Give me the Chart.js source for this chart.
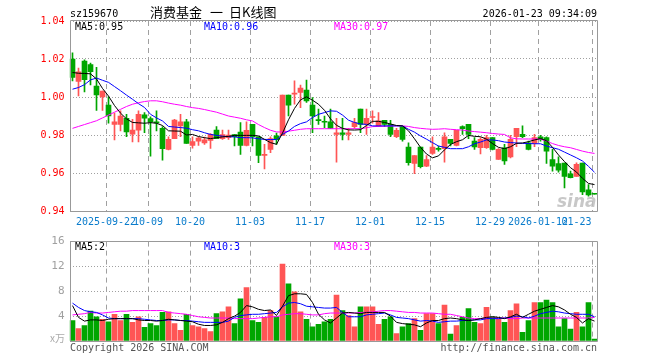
<!DOCTYPE html>
<html>
<head>
<meta charset="utf-8">
<script src="https://cdn.jsdelivr.net/npm/chart.js@4.4.0/dist/chart.umd.min.js"></script>
<style>
  html, body { margin: 0; padding: 0; background: #fff; }
  #wrap { position: relative; width: 660px; height: 360px; }
  #wrap canvas { position: absolute; left: 0; }
</style>
</head>
<body>
<div id="wrap">
  <canvas id="kChart" width="660" height="230" style="top:0"></canvas>
  <canvas id="volChart" width="660" height="130" style="top:230px"></canvas>
</div>
<script>
// trading days shown (sz159670, daily K)
const dates = [
  '2025-09-12','2025-09-15','2025-09-16','2025-09-17','2025-09-18','2025-09-19','2025-09-22','2025-09-23','2025-09-24','2025-09-25',
  '2025-09-26','2025-09-29','2025-09-30','2025-10-09','2025-10-10','2025-10-13','2025-10-14','2025-10-15','2025-10-16','2025-10-17',
  '2025-10-20','2025-10-21','2025-10-22','2025-10-23','2025-10-24','2025-10-27','2025-10-28','2025-10-29','2025-10-30','2025-10-31',
  '2025-11-03','2025-11-04','2025-11-05','2025-11-06','2025-11-07','2025-11-10','2025-11-11','2025-11-12','2025-11-13','2025-11-14',
  '2025-11-17','2025-11-18','2025-11-19','2025-11-20','2025-11-21','2025-11-24','2025-11-25','2025-11-26','2025-11-27','2025-11-28',
  '2025-12-01','2025-12-02','2025-12-03','2025-12-04','2025-12-05','2025-12-08','2025-12-09','2025-12-10','2025-12-11','2025-12-12',
  '2025-12-15','2025-12-16','2025-12-17','2025-12-18','2025-12-19','2025-12-22','2025-12-23','2025-12-24','2025-12-25','2025-12-26',
  '2025-12-29','2025-12-30','2025-12-31','2026-01-05','2026-01-06','2026-01-07','2026-01-08','2026-01-09','2026-01-12','2026-01-13',
  '2026-01-14','2026-01-15','2026-01-16','2026-01-19','2026-01-20','2026-01-21','2026-01-22','2026-01-23'
];

const opens = [
  1.0200,1.0082,1.0189,1.0170,1.0057,1.0001,0.9957,0.9856,0.9856,0.9888,
  0.9805,0.9826,0.9906,0.9886,0.9869,0.9835,0.9724,0.9781,0.9848,0.9869,
  0.9745,0.9768,0.9758,0.9772,0.9826,0.9781,0.9786,0.9802,0.9816,0.9745,
  0.9856,0.9791,0.9692,0.9724,0.9795,0.9798,1.0010,1.0015,1.0024,1.0036,
  0.9957,0.9879,0.9870,0.9869,0.9803,0.9812,0.9803,0.9844,0.9936,0.9856,
  0.9892,0.9848,0.9877,0.9856,0.9791,0.9844,0.9737,0.9650,0.9737,0.9636,
  0.9703,0.9730,0.9728,0.9777,0.9745,0.9844,0.9856,0.9768,0.9733,0.9733,
  0.9786,0.9671,0.9733,0.9684,0.9791,0.9803,0.9759,0.9756,0.9791,0.9786,
  0.9671,0.9650,0.9652,0.9596,0.9582,0.9652,0.9512,0.9490
];
const highs = [
  1.0232,1.0152,1.0195,1.0179,1.0156,1.0031,1.0001,0.9915,0.9927,0.9909,
  0.9883,0.9927,0.9918,0.9895,0.9927,0.9844,0.9791,0.9883,0.9909,0.9883,
  0.9791,0.9791,0.9789,0.9807,0.9844,0.9826,0.9826,0.9802,0.9865,0.9869,
  0.9856,0.9791,0.9751,0.9791,0.9810,1.0010,1.0010,1.0085,1.0063,1.0089,
  0.9997,0.9936,0.9900,0.9936,0.9888,0.9888,0.9835,0.9888,0.9936,0.9936,
  0.9927,0.9918,0.9877,0.9877,0.9835,0.9844,0.9759,0.9692,0.9737,0.9692,
  0.9791,0.9742,0.9812,0.9777,0.9825,0.9848,0.9856,0.9786,0.9786,0.9798,
  0.9786,0.9728,0.9751,0.9798,0.9835,0.9848,0.9768,0.9803,0.9798,0.9791,
  0.9724,0.9685,0.9652,0.9610,0.9654,0.9652,0.9539,0.9490
];
const lows = [
  1.0085,1.0006,1.0027,1.0063,0.9930,0.9930,0.9862,0.9774,0.9821,0.9791,
  0.9763,0.9763,0.9812,0.9689,0.9821,0.9668,0.9721,0.9781,0.9791,0.9756,
  0.9731,0.9745,0.9751,0.9730,0.9781,0.9777,0.9777,0.9742,0.9698,0.9742,
  0.9742,0.9654,0.9622,0.9707,0.9750,0.9798,0.9900,0.9962,0.9944,0.9971,
  0.9812,0.9856,0.9839,0.9835,0.9657,0.9774,0.9774,0.9835,0.9812,0.9803,
  0.9862,0.9844,0.9844,0.9791,0.9786,0.9768,0.9641,0.9597,0.9627,0.9633,
  0.9698,0.9715,0.9657,0.9742,0.9742,0.9803,0.9781,0.9724,0.9701,0.9730,
  0.9721,0.9671,0.9645,0.9680,0.9738,0.9786,0.9721,0.9738,0.9768,0.9650,
  0.9610,0.9605,0.9522,0.9574,0.9582,0.9486,0.9478,0.9488
];
const closes = [
  1.0103,1.0133,1.0091,1.0133,1.0011,1.0031,0.9900,0.9869,0.9900,0.9816,
  0.9826,0.9909,0.9888,0.9869,0.9863,0.9728,0.9777,0.9878,0.9869,0.9756,
  0.9766,0.9784,0.9774,0.9803,0.9781,0.9802,0.9800,0.9791,0.9745,0.9825,
  0.9791,0.9692,0.9698,0.9781,0.9775,1.0010,0.9957,1.0020,1.0047,0.9980,
  0.9900,0.9876,0.9867,0.9835,0.9812,0.9803,0.9812,0.9865,0.9856,0.9888,
  0.9897,0.9874,0.9856,0.9803,0.9825,0.9777,0.9654,0.9692,0.9633,0.9671,
  0.9737,0.9724,0.9791,0.9756,0.9825,0.9833,0.9803,0.9737,0.9777,0.9786,
  0.9724,0.9724,0.9663,0.9777,0.9835,0.9791,0.9724,0.9786,0.9781,0.9715,
  0.9636,0.9615,0.9582,0.9576,0.9645,0.9500,0.9485,0.9488
];

const ma5 = [
  1.0129,1.0125,1.0124,1.0122,1.0095,1.0045,1.0005,0.9955,0.9915,0.9885,
  0.9866,0.9864,0.9862,0.9865,0.9862,0.9850,0.9822,0.9821,0.9820,0.9800,
  0.9803,0.9792,0.9786,0.9781,0.9786,0.9790,0.9793,0.9798,0.9798,0.9798,
  0.9798,0.9795,0.9777,0.9760,0.9751,0.9810,0.9880,0.9940,0.9985,1.0001,
  0.9983,0.9962,0.9930,0.9885,0.9851,0.9835,0.9827,0.9826,0.9828,0.9850,
  0.9872,0.9872,0.9866,0.9858,0.9850,0.9848,0.9822,0.9780,0.9735,0.9700,
  0.9680,0.9690,0.9722,0.9750,0.9765,0.9775,0.9798,0.9793,0.9791,0.9778,
  0.9755,0.9735,0.9728,0.9738,0.9756,0.9758,0.9765,0.9774,0.9781,0.9770,
  0.9735,0.9695,0.9660,0.9628,0.9605,0.9572,0.9545,0.9539
];
const ma10 = [
  1.0041,1.0050,1.0065,1.0090,1.0100,1.0088,1.0077,1.0055,1.0033,1.0010,
  0.9988,0.9965,0.9945,0.9909,0.9890,0.9874,0.9845,0.9842,0.9839,0.9836,
  0.9828,0.9822,0.9812,0.9803,0.9798,0.9794,0.9791,0.9790,0.9786,0.9786,
  0.9785,0.9780,0.9777,0.9776,0.9776,0.9803,0.9821,0.9845,0.9860,0.9869,
  0.9892,0.9909,0.9918,0.9927,0.9925,0.9905,0.9878,0.9866,0.9858,0.9856,
  0.9848,0.9848,0.9848,0.9848,0.9848,0.9848,0.9830,0.9815,0.9795,0.9778,
  0.9760,0.9742,0.9735,0.9728,0.9728,0.9728,0.9738,0.9754,0.9763,0.9774,
  0.9774,0.9770,0.9763,0.9760,0.9758,0.9756,0.9755,0.9754,0.9754,0.9742,
  0.9733,0.9725,0.9710,0.9695,0.9680,0.9663,0.9635,0.9604
];
const ma30 = [
  0.9835,0.9845,0.9855,0.9865,0.9875,0.9890,0.9905,0.9920,0.9935,0.9950,
  0.9962,0.9970,0.9976,0.9980,0.9980,0.9975,0.9968,0.9962,0.9957,0.9950,
  0.9944,0.9940,0.9934,0.9927,0.9920,0.9910,0.9900,0.9894,0.9888,0.9880,
  0.9874,0.9855,0.9839,0.9825,0.9816,0.9816,0.9820,0.9825,0.9830,0.9833,
  0.9833,0.9833,0.9833,0.9833,0.9833,0.9833,0.9833,0.9833,0.9833,0.9838,
  0.9844,0.9845,0.9846,0.9847,0.9848,0.9848,0.9845,0.9839,0.9835,0.9832,
  0.9830,0.9831,0.9833,0.9830,0.9828,0.9826,0.9821,0.9818,0.9815,0.9812,
  0.9808,0.9805,0.9803,0.9785,0.9780,0.9779,0.9779,0.9779,0.9778,0.9768,
  0.9755,0.9745,0.9738,0.9733,0.9724,0.9715,0.9708,0.9703
];

// volume, 万
const volumes = [
  3.3,2.0,2.5,4.8,3.9,3.5,3.1,4.3,3.3,4.3,
  3.0,3.9,2.2,2.8,2.5,4.6,4.7,2.8,1.7,4.3,
  2.5,2.3,2.0,1.5,4.4,4.7,5.5,2.8,6.8,8.6,
  3.3,3.0,3.8,4.9,3.9,12.4,9.2,7.9,4.7,3.5,
  2.3,2.7,3.1,3.5,7.4,4.9,4.1,2.3,5.5,5.5,
  5.5,2.7,3.5,3.9,1.2,2.3,2.8,3.6,1.7,4.4,
  4.4,2.8,5.8,1.1,2.5,3.8,5.2,3.0,2.8,5.4,
  3.9,3.5,3.0,4.9,6.0,1.4,3.3,6.2,6.2,6.6,
  6.2,2.3,3.6,1.9,4.6,2.3,6.2,0.3
];
const volMa5 = [
  5.7,3.8,3.2,3.4,3.4,3.3,3.5,3.6,3.6,3.6,
  3.6,3.4,3.3,3.3,3.2,3.3,3.5,3.4,3.3,3.2,
  3.1,2.7,2.5,2.5,2.6,3.0,3.6,4.0,4.6,5.7,
  5.5,5.1,4.9,5.0,4.1,5.6,7.3,7.6,7.6,7.5,
  6.2,4.3,3.4,2.9,3.7,4.5,4.6,4.5,4.4,4.6,
  4.6,4.6,4.6,4.0,3.0,2.8,2.7,2.6,2.3,2.9,
  3.3,3.3,3.6,3.7,3.6,3.4,3.3,3.4,3.6,3.8,
  3.9,3.8,3.6,3.9,4.3,3.8,4.3,4.8,5.1,5.4,
  5.7,5.5,5.0,4.3,3.8,2.9,3.6,3.2
];
const volMa10 = [
  6.1,5.4,4.9,4.7,4.6,4.2,3.7,3.6,3.6,3.6,
  3.6,3.6,3.5,3.4,3.3,3.3,3.4,3.4,3.3,3.3,
  3.2,3.1,3.0,3.0,3.0,3.0,3.2,3.8,4.1,4.2,
  4.3,4.3,4.4,4.5,4.6,5.5,6.1,6.2,6.0,5.6,
  5.5,5.4,5.3,5.3,5.4,4.6,3.9,3.9,3.9,4.2,
  4.3,4.4,4.5,4.2,3.8,3.7,3.6,3.4,3.2,3.3,
  3.2,3.0,3.1,3.2,3.2,3.3,3.3,3.4,3.4,3.6,
  3.6,3.6,3.7,3.8,4.0,3.9,3.7,4.0,4.4,4.6,
  4.8,4.7,4.5,4.4,4.3,4.3,4.3,3.9
];
const volMa30 = [
  4.2,4.3,4.4,4.6,4.5,4.5,4.6,4.7,4.8,4.8,
  4.9,4.9,4.9,4.9,4.9,4.9,4.6,4.5,4.4,4.3,
  4.1,3.9,3.8,3.7,3.7,3.7,3.7,3.6,3.6,3.6,
  3.6,3.7,3.8,3.9,3.9,4.2,4.3,4.4,4.4,4.3,
  4.2,4.2,4.4,4.5,4.5,4.5,4.5,4.5,4.6,4.6,
  4.7,4.8,4.9,4.9,4.8,4.7,4.6,4.6,4.5,4.5,
  4.5,4.4,4.3,4.3,4.1,3.9,3.7,3.6,3.6,3.7,
  3.7,3.7,3.7,3.6,3.6,3.7,3.7,3.7,3.7,3.7,
  3.7,3.7,3.7,3.7,3.7,3.7,3.7,3.8
];

const xTickDates = ['2025-09-22','2025-10-09','2025-10-20','2025-11-03','2025-11-17','2025-12-01','2025-12-15','2025-12-29','2026-01-12','2026-01-23'];
const xTickLabels = ['2025-09-22','10-09','10-20','11-03','11-17','12-01','12-15','12-29','2026-01-12','01-23'];
const priceTicks = [0.94, 1.04, 0.02];   // min, max, step
const volTicks = [0, 16, 4];

const UP = '#ff5555', DOWN = '#00a600';
const MONO = '"DejaVu Sans Mono", monospace';
const candleColors = closes.map((c, i) => (c >= opens[i] ? UP : DOWN));
const tickIdx = xTickDates.map(d => dates.indexOf(d));

// dashed date lines at the left edge of each labelled day
const dateLines = {
  id: 'dateLines',
  beforeDatasetsDraw(chart) {
    const { ctx, chartArea: a } = chart;
    const xs = chart.scales.x;
    const slot = xs.getPixelForValue(1) - xs.getPixelForValue(0);
    ctx.save();
    ctx.strokeStyle = '#a0a0a0';
    ctx.lineWidth = 1;
    ctx.setLineDash([5, 4]);
    tickIdx.forEach(i => {
      const gx = Math.round(xs.getPixelForValue(i) - slot / 2) + 0.5;
      ctx.beginPath();
      ctx.moveTo(gx, a.top);
      ctx.lineTo(gx, a.bottom);
      ctx.stroke();
    });
    ctx.restore();
  }
};

// plot frame
function frame(chart) {
  const { ctx, chartArea: a } = chart;
  ctx.save();
  ctx.strokeStyle = '#999';
  ctx.lineWidth = 1;
  ctx.beginPath();
  ctx.rect(Math.round(a.left) + 0.5, Math.round(a.top) - 0.5, Math.round(a.right) - Math.round(a.left) - 1, Math.round(a.bottom) - Math.round(a.top) + 1);
  ctx.stroke();
  ctx.restore();
}

function txt(ctx, s, x, y, color, align, font) {
  ctx.fillStyle = color;
  ctx.textAlign = align || 'left';
  ctx.font = font || '10px ' + MONO;
  ctx.fillText(s, x, y);
}

const kTexts = {
  id: 'kTexts',
  afterDraw(chart) {
    frame(chart);
    const { ctx, chartArea: a } = chart;
    const xs = chart.scales.x;
    ctx.save();
    ctx.textBaseline = 'alphabetic';
    txt(ctx, 'sz159670', 70, 17, '#000');
    txt(ctx, '2026-01-23 09:34:09', 597, 17, '#000', 'right');
    ctx.textBaseline = 'middle';
    const tf = '13px "Noto Sans CJK SC"';
    txt(ctx, '消费基金', 150, 12, '#000', 'left', tf);
    txt(ctx, '一', 210, 12, '#000', 'left', tf);
    txt(ctx, '日K线图', 229, 12, '#000', 'left', tf);
    ctx.textBaseline = 'alphabetic';
    txt(ctx, 'MA5:' + ma5[ma5.length - 1].toFixed(2), 75, 30, '#000');
    txt(ctx, 'MA10:' + ma10[ma10.length - 1].toFixed(2), 204, 30, '#0000ff');
    txt(ctx, 'MA30:' + ma30[ma30.length - 1].toFixed(2), 334, 30, '#ff00ff');
    // date labels centred on the dashed lines, last one kept inside the frame
    const slot = xs.getPixelForValue(1) - xs.getPixelForValue(0);
    ctx.font = '10px ' + MONO;
    xTickLabels.forEach((lab, k) => {
      const gx = Math.round(xs.getPixelForValue(tickIdx[k]) - slot / 2);
      const w = ctx.measureText(lab).width;
      let x = gx - w / 2;
      if (x + w > a.right - 6) x = a.right - 6 - w;
      txt(ctx, lab, x, 225, '#0a7ccc');
    });
    ctx.font = 'italic bold 17px "DejaVu Sans"';
    ctx.fillStyle = 'rgba(190,190,190,0.85)';
    ctx.textAlign = 'right';
    ctx.fillText('sina', a.right - 1, 207);
    ctx.restore();
  }
};

const volTexts = {
  id: 'volTexts',
  afterDraw(chart) {
    frame(chart);
    const { ctx } = chart;
    ctx.save();
    txt(ctx, 'MA5:2', 75, 20, '#000');
    txt(ctx, 'MA10:3', 204, 20, '#0000ff');
    txt(ctx, 'MA30:3', 334, 20, '#ff00ff');
    txt(ctx, 'x万', 65, 112, '#aaa', 'right', '10px "Noto Sans CJK SC"');
    txt(ctx, 'Copyright 2026 SINA.COM', 70, 121, '#555');
    txt(ctx, 'http://finance.sina.com.cn', 597, 121, '#555', 'right');
    ctx.restore();
  }
};

const common = {
  responsive: false,
  animation: false,
  events: [],
  plugins: { legend: { display: false }, tooltip: { enabled: false } }
};

const lineSet = (data, color) => ({
  type: 'line', data, borderColor: color, borderWidth: 1,
  pointRadius: 0, tension: 0, fill: false, order: 0
});

const xAxis = {
  ticks: { display: false, autoSkip: false },
  grid: { display: false },
  border: { display: false },
  afterFit: s => { s.height = 19; }
};

new Chart(document.getElementById('kChart'), {
  type: 'bar',
  data: {
    labels: dates,
    datasets: [
      lineSet(ma5, '#000000'),
      lineSet(ma10, '#0000ff'),
      lineSet(ma30, '#ff00ff'),
      {
        data: opens.map((o, i) => [o, closes[i]]),
        backgroundColor: candleColors, borderWidth: 0,
        barThickness: 5, minBarLength: 1, grouped: false, order: 1
      },
      {
        data: lows.map((l, i) => [l, highs[i]]),
        backgroundColor: candleColors, borderWidth: 0,
        barThickness: 1, grouped: false, order: 2
      }
    ]
  },
  options: {
    ...common,
    layout: { padding: { left: 0, right: 62.5, top: 21, bottom: 0 } },
    scales: {
      x: xAxis,
      y: {
        min: priceTicks[0], max: priceTicks[1],
        ticks: {
          stepSize: priceTicks[2], color: '#ff0000', padding: 5,
          font: { family: MONO, size: 10 },
          callback: v => v.toFixed(2)
        },
        grid: { drawTicks: false, color: '#a0a0a0' },
        border: { display: false, dash: [1, 2] },
        afterFit: s => { s.width = 69.5; }
      }
    }
  },
  plugins: [dateLines, kTexts]
});

new Chart(document.getElementById('volChart'), {
  type: 'bar',
  data: {
    labels: dates,
    datasets: [
      lineSet(volMa5, '#000000'),
      lineSet(volMa10, '#0000ff'),
      lineSet(volMa30, '#ff00ff'),
      {
        data: volumes, backgroundColor: candleColors, borderWidth: 0,
        barThickness: 5, grouped: false, order: 1
      }
    ]
  },
  options: {
    ...common,
    layout: { padding: { left: 0, right: 62.5, top: 10, bottom: 0 } },
    scales: {
      x: xAxis,
      y: {
        min: volTicks[0], max: volTicks[1],
        ticks: {
          stepSize: volTicks[2], color: '#a0a0a0', padding: 5,
          font: { family: MONO, size: 11 },
          callback: v => (v === 0 ? '' : String(v))
        },
        grid: { drawTicks: false, color: '#a0a0a0' },
        border: { display: false, dash: [1, 2] },
        afterFit: s => { s.width = 69.5; }
      }
    }
  },
  plugins: [dateLines, volTexts]
});
</script>
</body>
</html>
